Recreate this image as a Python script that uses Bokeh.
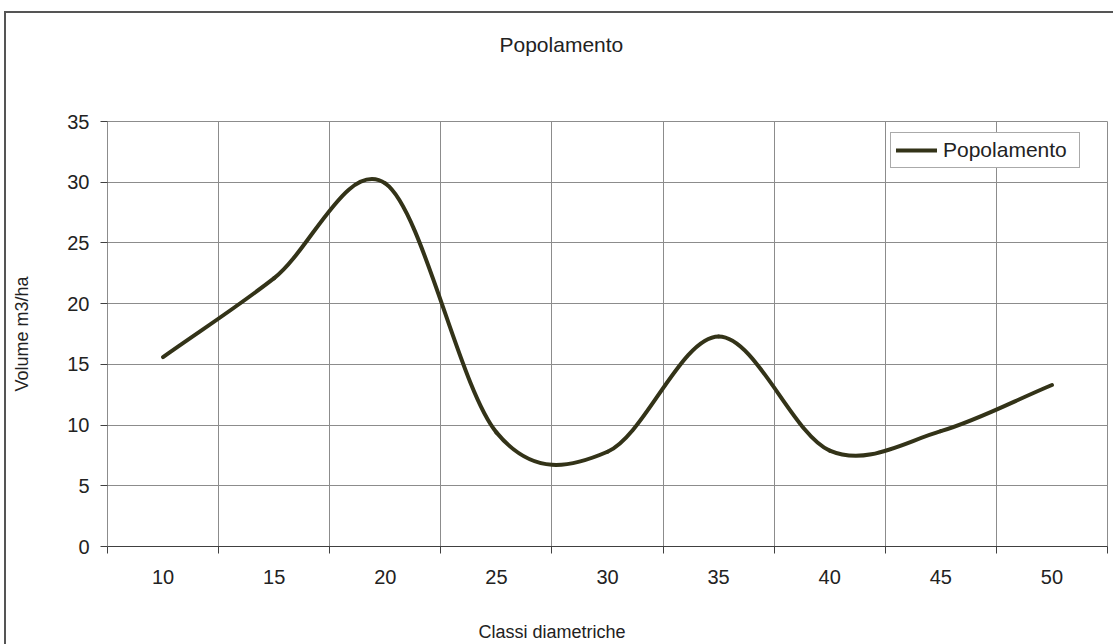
from bokeh.plotting import figure
from bokeh.models import Range1d, FixedTicker, Legend, LegendItem, Title
from bokeh.embed import file_html
from bokeh.resources import INLINE

# ---- data ----
categories = ["10", "15", "20", "25", "30", "35", "40", "45", "50"]
values = [15.6, 22.1, 29.9, 9.4, 7.8, 17.3, 7.9, 9.5, 13.3]
y_ticks = [0, 5, 10, 15, 20, 25, 30, 35]
series_name = "Popolamento"
title_text = "Popolamento"
x_title = "Classi diametriche"
y_title = "Volume m3/ha"

FONT = "Liberation Sans"
TXT = "#222222"
GRID = "#8c8c8c"
LINE = "#333318"

n = len(categories)
xs = [i + 0.5 for i in range(n)]

# smoothed-line control points (Excel style smoothing through the data points)
slopes = []
for i in range(n):
    if i == 0:
        slopes.append(values[1] - values[0])
    elif i == n - 1:
        slopes.append(values[-1] - values[-2])
    else:
        slopes.append((values[i + 1] - values[i - 1]) / 2.0)

seg = dict(x0=[], y0=[], x1=[], y1=[], cx0=[], cy0=[], cx1=[], cy1=[])
for i in range(n - 1):
    seg["x0"].append(xs[i]); seg["y0"].append(values[i])
    seg["x1"].append(xs[i + 1]); seg["y1"].append(values[i + 1])
    seg["cx0"].append(xs[i] + 1 / 3); seg["cy0"].append(values[i] + slopes[i] / 3)
    seg["cx1"].append(xs[i + 1] - 1 / 3); seg["cy1"].append(values[i + 1] - slopes[i + 1] / 3)

p = figure(width=1113, height=644, output_backend="svg", toolbar_location=None,
           x_range=Range1d(0, n), y_range=Range1d(0, 35),
           min_border_left=107, min_border_right=6, min_border_top=121, min_border_bottom=98)
p.border_fill_color = None
p.background_fill_color = "white"
p.outline_line_color = GRID
p.outline_line_width = 1
p.styles = {"box-shadow": "inset 0 11px 0 0 #ffffff, inset 4px 0 0 0 #ffffff, "
                          "inset 0 13px 0 0 #555555, inset 6px 0 0 0 #555555"}

# title
p.title = Title(text=title_text, align="left", offset=392,
                text_font=FONT, text_font_size="21px", text_color=TXT,
                text_font_style="normal", standoff=0,
                padding=dict(left=0, right=0, top=0, bottom=66))

# axes
xa = p.xaxis[0]
xa.ticker = FixedTicker(ticks=xs, minor_ticks=list(range(n + 1)))
xa.major_label_overrides = {x: c for x, c in zip(xs, categories)}
xa.major_tick_out = 0
xa.major_tick_in = 0
xa.minor_tick_out = 7
xa.minor_tick_in = 0
xa.minor_tick_line_color = "#404040"
xa.axis_line_color = "#404040"
xa.major_label_standoff = 16
xa.major_label_text_font = FONT
xa.major_label_text_font_size = "20px"
xa.major_label_text_color = TXT

ya = p.yaxis[0]
ya.ticker = FixedTicker(ticks=y_ticks)
ya.major_tick_out = 7
ya.major_tick_in = 0
ya.minor_tick_out = 0
ya.minor_tick_in = 0
ya.major_tick_line_color = "#404040"
ya.axis_line_color = GRID
ya.major_label_standoff = 11
ya.major_label_text_font = FONT
ya.major_label_text_font_size = "20px"
ya.major_label_text_color = TXT
ya.axis_label = y_title
ya.axis_label_standoff = 32
ya.axis_label_text_font = FONT
ya.axis_label_text_font_size = "18px"
ya.axis_label_text_font_style = "normal"
ya.axis_label_text_color = TXT

p.add_layout(Title(text=x_title, align="left", offset=371, text_font=FONT,
                   text_font_size="18px", text_color=TXT, text_font_style="normal",
                   standoff=0, padding=dict(left=0, right=0, top=33, bottom=0)), "below")

p.xgrid.ticker = FixedTicker(ticks=list(range(1, n)))
p.ygrid.ticker = FixedTicker(ticks=y_ticks)
for g in (p.xgrid[0], p.ygrid[0]):
    g.grid_line_color = GRID
    g.grid_line_width = 1

# smoothed line
r = p.bezier(x0="x0", y0="y0", x1="x1", y1="y1", cx0="cx0", cy0="cy0", cx1="cx1", cy1="cy1",
             source=seg, line_color=LINE, line_width=4, line_cap="round")

legend = Legend(items=[LegendItem(label=series_name, renderers=[r])], location=(783, 378))
legend.border_line_color = "#555555"
legend.border_line_width = 1
legend.background_fill_color = "white"
legend.background_fill_alpha = 1
legend.padding = 5
legend.margin = 0
legend.glyph_width = 41
legend.glyph_height = 20
legend.label_standoff = 6
legend.label_width = 131
legend.label_text_font = FONT
legend.label_text_font_size = "21px"
legend.label_text_color = TXT
p.add_layout(legend)

open("out.html", "w").write(file_html(p, INLINE))
